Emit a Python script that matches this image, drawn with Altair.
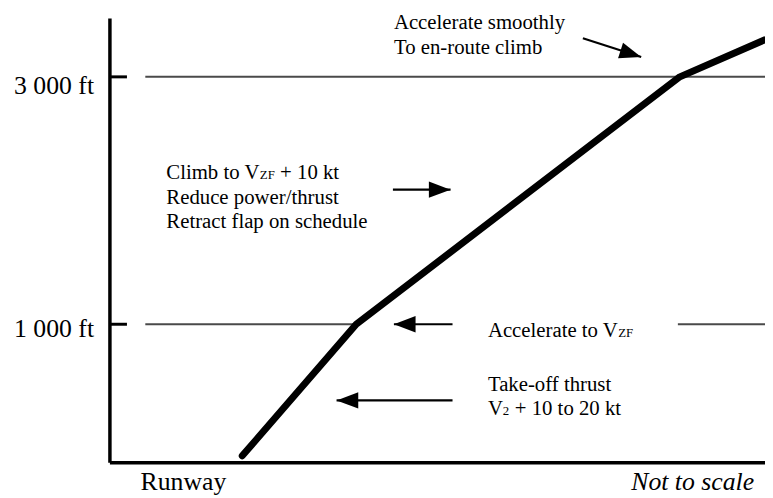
import math
import altair as alt
import pandas as pd

# ---- data (distance is arbitrary "not to scale" units, altitude in ft) ----
X_DOMAIN = [0, 100]
Y_DOMAIN = [-120, 3472]

profile_dist = [20.2, 37.6, 87.0, 100.0]
profile_alt = [-64, 1000, 3000, 3300]

level_alts = [1000, 3000]
level_labels = ["1 000 ft", "3 000 ft"]
level_label_alt = [900, 2860]

grid_from = [5.4, 86.7, 5.4]
grid_to = [37.6, 100.0, 100.0]
grid_alt = [1000, 1000, 3000]

arrow_tail_x = [72.2, 43.2, 52.3, 52.3]
arrow_tail_y = [3312, 2088, 1000, 384]
arrow_tip_x = [81.1, 52.0, 43.35, 34.6]
arrow_tip_y = [3160, 2088, 1000, 384]
arrow_angle = [17.85, 0, 180, 180]

ann_text = ["Accelerate smoothly", "To en-route climb",
            "Climb to V", "ZF", "+ 10 kt",
            "Reduce power/thrust", "Retract flap on schedule",
            "Accelerate to V", "ZF",
            "Take-off thrust", "V", "2", "+ 10 to 20 kt",
            "Runway"]
ann_x = [43.35, 43.35,
         8.61, 22.89, 25.98,
         8.61, 8.61,
         57.7, 77.6,
         57.7, 57.7, 59.97, 61.8,
         4.68]
ann_y = [3384, 3184,
         2176, 2176, 2176,
         1976, 1780,
         896, 896,
         464, 264, 264, 264,
         -336]
ann_size = [21, 21,
            21, 13, 21,
            21, 21,
            21, 13,
            21, 21, 13, 21,
            26]

FONT = "Liberation Serif"

xs = alt.Scale(domain=X_DOMAIN, nice=False, zero=False)
ys = alt.Scale(domain=Y_DOMAIN, nice=False, zero=False)

def X(f):
    return alt.X(f, type="quantitative", scale=xs, axis=None)

def Y(f):
    return alt.Y(f, type="quantitative", scale=ys, axis=None)

# frame (axes) drawn as rules
frame_df = pd.DataFrame({
    "x": [X_DOMAIN[0], X_DOMAIN[0]],
    "x2": [X_DOMAIN[0], X_DOMAIN[1]],
    "y": [Y_DOMAIN[0], Y_DOMAIN[0]],
    "y2": [Y_DOMAIN[1], Y_DOMAIN[0]],
})
frame = alt.Chart(frame_df).mark_rule(color="black", strokeWidth=3.5).encode(
    x=X("x"), x2="x2", y=Y("y"), y2="y2")

tick_df = pd.DataFrame({"x": [0] * 2, "x2": [2.6] * 2, "y": level_alts})
ticks = alt.Chart(tick_df).mark_rule(color="black", strokeWidth=3).encode(
    x=X("x"), x2="x2", y=Y("y"))

grid_df = pd.DataFrame({"x": grid_from, "x2": grid_to, "y": grid_alt})
grid = alt.Chart(grid_df).mark_rule(color="#4a4a4a", strokeWidth=2).encode(
    x=X("x"), x2="x2", y=Y("y"))

prof_df = pd.DataFrame({"d": profile_dist, "a": profile_alt,
                        "o": list(range(len(profile_dist)))})
profile = alt.Chart(prof_df).mark_line(
    color="black", strokeWidth=7, strokeCap="round", strokeJoin="round"
).encode(x=X("d"), y=Y("a"), order="o:Q")

arr_df = pd.DataFrame({"x": arrow_tail_x, "y": arrow_tail_y,
                       "x2": arrow_tip_x, "y2": arrow_tip_y,
                       "ang": arrow_angle})
shafts = alt.Chart(arr_df).mark_rule(color="black", strokeWidth=2.2).encode(
    x=X("x"), y=Y("y"), x2="x2", y2="y2")
heads = alt.Chart(arr_df).mark_point(
    shape="M0,0L-2,-0.75L-2,0.75Z", filled=True, size=480, color="black",
    opacity=1, strokeWidth=0
).encode(x=X("x2"), y=Y("y2"), angle=alt.Angle("ang:Q", scale=None))

ann_df = pd.DataFrame({"t": ann_text, "x": ann_x, "y": ann_y, "s": ann_size})
ann = alt.Chart(ann_df).mark_text(
    font=FONT, align="left", baseline="alphabetic", color="black"
).encode(x=X("x"), y=Y("y"), text="t:N", size=alt.Size("s:Q", scale=None))

lvl_df = pd.DataFrame({"t": level_labels, "x": [-2.42] * 2, "y": level_label_alt})
lvl = alt.Chart(lvl_df).mark_text(
    font=FONT, align="right", baseline="alphabetic", color="black", fontSize=26
).encode(x=X("x"), y=Y("y"), text="t:N")

nts_df = pd.DataFrame({"t": ["Not to scale"], "x": [98.34], "y": [-336]})
nts = alt.Chart(nts_df).mark_text(
    font=FONT, align="right", baseline="alphabetic", color="black",
    fontSize=26, fontStyle="italic"
).encode(x=X("x"), y=Y("y"), text="t:N")

chart = alt.layer(grid, profile, frame, ticks, shafts, heads, ann, lvl, nts).properties(
    width=662, height=449,
    padding={"left": 103, "top": 8, "right": 0, "bottom": 33},
    autosize=alt.AutoSizeParams(type="none"),
    background="white",
).configure_view(stroke=None)

chart.save("out.html", embed_options={"renderer": "svg", "actions": False})
